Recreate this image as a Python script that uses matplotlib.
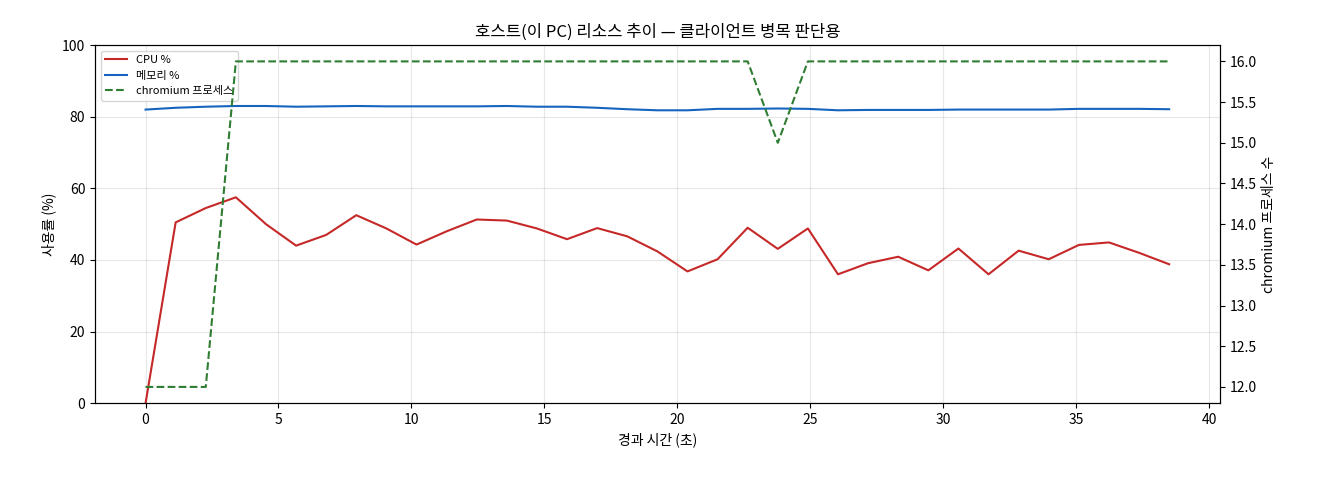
import numpy as np
import matplotlib
matplotlib.use("Agg")
from matplotlib import pyplot as plt

plt.rcParams['font.family'] = ['Noto Sans CJK KR', 'DejaVu Sans']
plt.rcParams['axes.unicode_minus'] = False

step = 38.5 / 34
t = np.arange(35) * step
cpu = [0, 50.5, 54.5, 57.5, 50, 44, 47, 52.5, 48.8, 44.3, 48, 51.3, 51, 48.8, 45.8,
       48.9, 46.6, 42.4, 36.8, 40.2, 49, 43.1, 48.8, 36, 39.1, 40.9, 37.1, 43.2, 36,
       42.6, 40.2, 44.2, 44.9, 42, 38.8]
mem = [82.0, 82.5, 82.8, 83.0, 83.0, 82.8, 82.9, 83.0, 82.9, 82.9, 82.9, 82.9, 83.0, 82.8, 82.8,
       82.5, 82.1, 81.8, 81.8, 82.2, 82.2, 82.3, 82.2, 81.8, 81.9, 81.9, 81.9, 82.0, 82.0,
       82.0, 82.0, 82.2, 82.2, 82.2, 82.1]
procs = [12, 12, 12] + [16] * 17 + [16, 15] + [16] * 13

fig, ax = plt.subplots(figsize=(13.2, 4.8), dpi=100)
fig.subplots_adjust(left=0.072, right=0.924, top=0.906, bottom=0.16)
l1, = ax.plot(t, cpu, color='#c62828', lw=1.5, label='CPU %')
l2, = ax.plot(t, mem, color='#1565c0', lw=1.5, label='메모리 %')
ax.set_ylim(0, 100)
ax.set_xlim(-1.9, 40.4)
ax.set_xlabel('경과 시간 (초)')
ax.set_ylabel('사용률 (%)')
ax.grid(alpha=0.3)
ax.set_title('호스트(이 PC) 리소스 추이 — 클라이언트 병목 판단용', fontsize=12)

ax2 = ax.twinx()
l3, = ax2.plot(t, procs, color='#2e7d32', lw=1.5, ls='--', label='chromium 프로세스')
ax2.set_ylim(11.8, 16.2)
ax2.set_ylabel('chromium 프로세스 수')

ax.legend(handles=[l1, l2, l3], loc='upper left', fontsize=8)
fig.savefig('out.png')
